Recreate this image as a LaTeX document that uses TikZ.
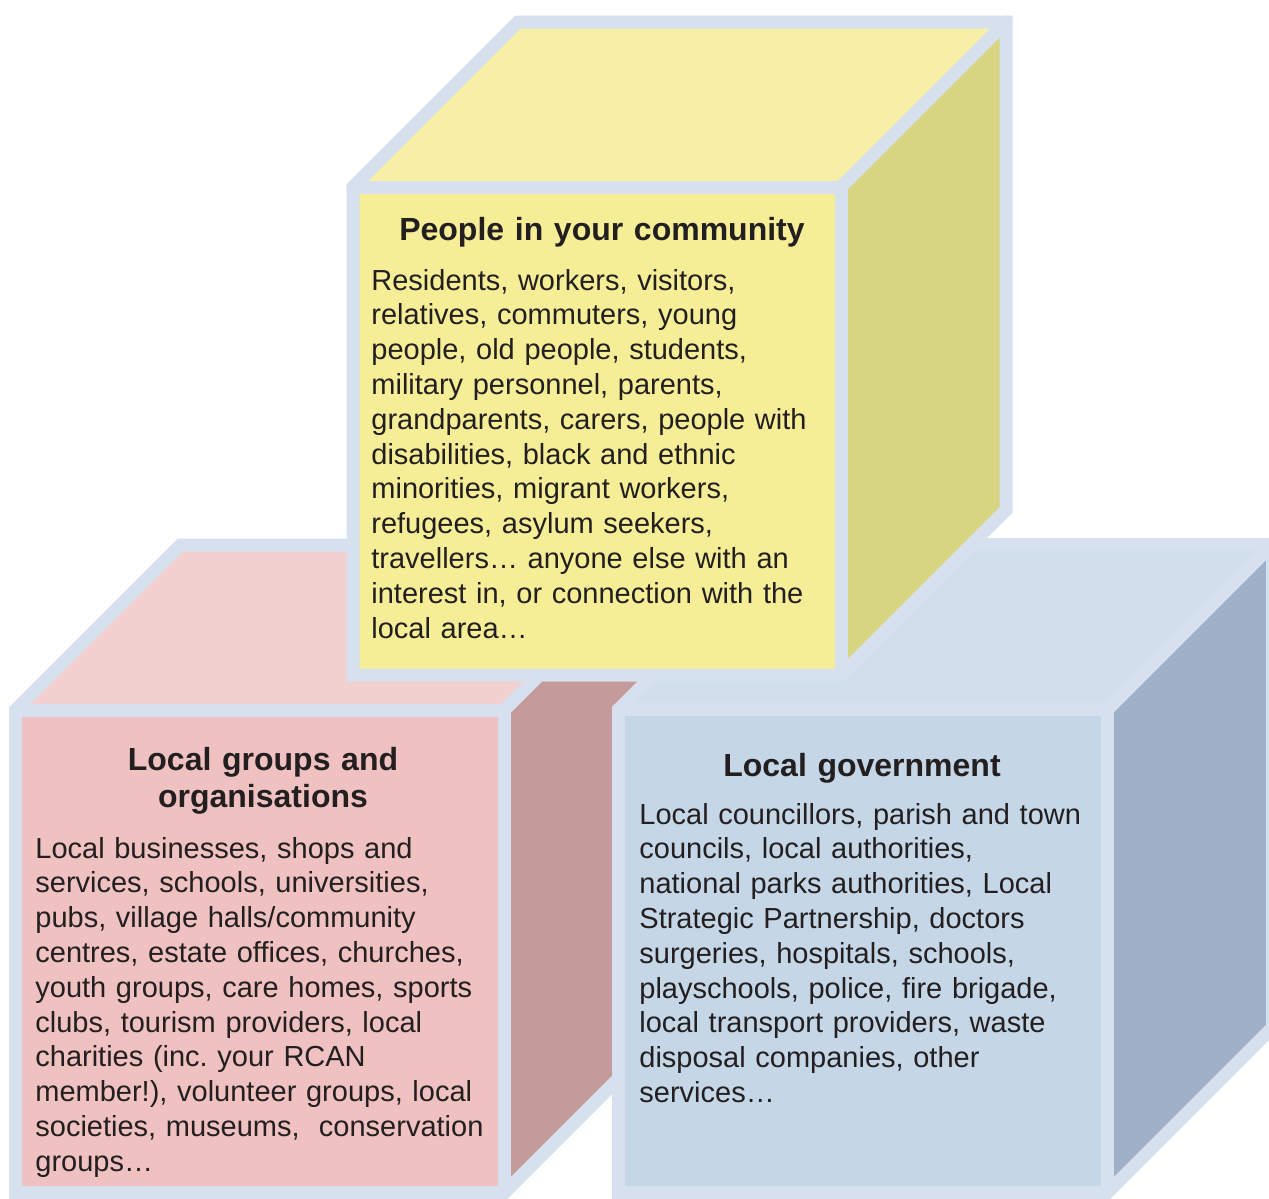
\documentclass[tikz,border=0pt]{standalone}
\usepackage{fontspec}
\setmainfont{Liberation Sans}
\definecolor{bord}{RGB}{214,224,238}
\definecolor{txt}{RGB}{35,31,32}
\definecolor{yfront}{RGB}{246,238,150}
\definecolor{ytop}{RGB}{247,239,166}
\definecolor{yside}{RGB}{216,213,130}
\definecolor{pfront}{RGB}{239,193,193}
\definecolor{ptop}{RGB}{243,208,208}
\definecolor{pside}{RGB}{196,155,154}
\definecolor{bfront}{RGB}{197,214,230}
\definecolor{btop}{RGB}{209,222,236}
\definecolor{bside}{RGB}{159,176,200}
\tikzset{
  edgeline/.style={draw=bord, line width=6.5pt, line join=miter},
  inner/.style={draw=bord, line width=6.5pt, line cap=round, line join=miter},
  titletext/.style={text=txt, inner sep=0pt, align=center, text width=250pt,
    font=\frenchspacing\bfseries\fontsize{16pt}{18.6pt}\selectfont},
  bodytext/.style={text=txt, inner sep=0pt, align=left, text width=236pt,
    font=\frenchspacing\fontsize{14.5pt}{17.4pt}\selectfont}
}
% #1 prefix, #2 left, #3 right, #4 top, #5 bottom, #6 front, #7 top, #8 side
\newcommand\drawcubeface[8]{%
  \coordinate (#1FTL) at (#2,#4);
  \coordinate (#1FTR) at (#3,#4);
  \coordinate (#1FBR) at (#3,#5);
  \coordinate (#1FBL) at (#2,#5);
  \coordinate (#1BTL) at ($(#1FTL)+(165,-165)$);
  \coordinate (#1BTR) at ($(#1FTR)+(165,-165)$);
  \coordinate (#1BBR) at ($(#1FBR)+(165,-165)$);
  \fill[#6] (#1FTL) -- (#1FTR) -- (#1FBR) -- (#1FBL) -- cycle;
  \fill[#7] (#1FTL) -- (#1BTL) -- (#1BTR) -- (#1FTR) -- cycle;
  \fill[#8] (#1FTR) -- (#1BTR) -- (#1BBR) -- (#1FBR) -- cycle;
  \draw[inner] (#1FTL) -- (#1FTR) -- (#1FBR);
  \draw[inner] (#1FTR) -- (#1BTR);
  \draw[edgeline] (#1FBL) -- (#1FTL) -- (#1BTL) -- (#1BTR) -- (#1BBR) -- (#1FBR) -- cycle;
}
\usetikzlibrary{calc}
\begin{document}
\begin{tikzpicture}[x=0.5pt,y=-0.5pt]
\useasboundingbox (0,0) rectangle (1269,1199);
\fill[white] (0,0) rectangle (1269,1199);

% pink cube (left)
\drawcubeface{p}{15.5}{504.5}{710}{1192.5}{pfront}{ptop}{pside}
% blue cube (right)
\drawcubeface{b}{618.5}{1107.5}{709.5}{1192.5}{bfront}{btop}{bside}
% yellow cube (top)
\drawcubeface{y}{353}{841}{187}{675}{yfront}{ytop}{yside}

% yellow texts
\node[titletext, anchor=base] (ytitle) at (602,240) {People in your community};
\node[bodytext, anchor=base west] (ybody) at (371,290) {Residents, workers, visitors,\\
relatives, commuters, young\\
people, old people, students,\\
military personnel, parents,\\
grandparents, carers, people with\\
disabilities, black and ethnic\\
minorities, migrant workers,\\
refugees, asylum seekers,\\
travellers… anyone else with an\\
interest in, or connection with the\\
local area…};

% pink texts
\node[titletext, anchor=base] (ptitle) at (263,770) {Local groups and\\organisations};
\node[bodytext, anchor=base west] (pbody) at (35,858) {Local businesses, shops and\\
services, schools, universities,\\
pubs, village halls/community\\
centres, estate offices, churches,\\
youth groups, care homes, sports\\
clubs, tourism providers, local\\
charities (inc. your RCAN\\
member!), volunteer groups, local\\
societies, museums,~ conservation\\
groups…};

% blue texts
\node[titletext, anchor=base] (btitle) at (862,776) {Local government};
\node[bodytext, anchor=base west] (bbody) at (639,824) {Local councillors, parish and town\\
councils, local authorities,\\
national parks authorities, Local\\
Strategic Partnership, doctors\\
surgeries, hospitals, schools,\\
playschools, police, fire brigade,\\
local transport providers, waste\\
disposal companies, other\\
services…};
\end{tikzpicture}
\end{document}
